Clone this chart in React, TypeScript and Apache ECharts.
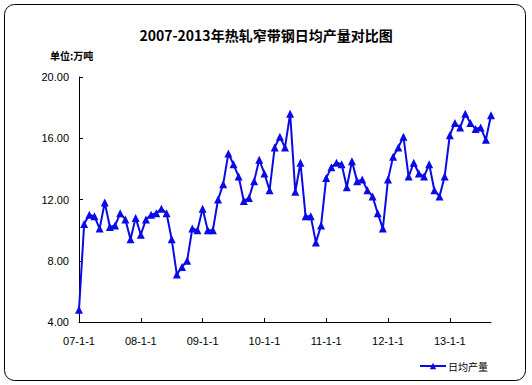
import React, { useEffect, useRef } from "react";
import * as echarts from "echarts";

const years = ["07", "08", "09", "10", "11", "12", "13"];
const lastYearMonths = 9;
const categories: string[] = [];
years.forEach((y, yi) => {
  const n = yi === years.length - 1 ? lastYearMonths : 12;
  for (let m = 1; m <= n; m++) categories.push(`${y}-${m}-1`);
});

const dailyOutput = [
  4.8, 10.4, 11.0, 10.9, 10.1, 11.8, 10.2, 10.3, 11.1, 10.7, 9.4, 10.8,
  9.7, 10.7, 11.0, 11.1, 11.4, 11.1, 9.4, 7.1, 7.6, 8.0, 10.1, 10.0,
  11.4, 10.0, 10.0, 12.0, 13.0, 15.0, 14.3, 13.5, 11.9, 12.1, 13.2, 14.6,
  13.7, 12.6, 15.4, 16.1, 15.4, 17.6, 12.5, 14.4, 10.9, 10.9, 9.2, 10.3,
  13.4, 14.1, 14.4, 14.3, 12.8, 14.5, 13.2, 13.3, 12.6, 12.2, 11.1, 10.1,
  13.3, 14.8, 15.4, 16.1, 13.5, 14.4, 13.7, 13.5, 14.3, 12.6, 12.2, 13.5,
  16.2, 17.0, 16.7, 17.6, 17.0, 16.6, 16.7, 15.9, 17.5,
];

const yTicks = { min: 4, max: 20, interval: 4 };
const titleText = "2007-2013年热轧窄带钢日均产量对比图";
const unitText = "单位:万吨";
const seriesName = "日均产量";

export default function App() {
  const ref = useRef<HTMLDivElement>(null);
  useEffect(() => {
    document.body.style.margin = "0";
    if (!ref.current) return;
    const chart = echarts.init(ref.current, undefined, { renderer: "svg" });
    const everyYear = (i: number) => i % 12 === 0;
    chart.setOption({
      animation: false,
      backgroundColor: "#ffffff",
      title: {
        text: titleText,
        left: "center",
        top: 23,
        textStyle: {
          fontFamily: "Noto Sans CJK SC",
          fontWeight: "bold",
          fontSize: 14,
          color: "#000",
        },
      },
      graphic: [
        {
          type: "rect",
          shape: { x: 4.5, y: 4.5, width: 521, height: 376, r: 10 },
          style: { fill: "none", stroke: "#000", lineWidth: 1 },
          silent: true,
        },
        {
          type: "text",
          x: 50,
          y: 55,
          style: {
            text: unitText,
            fontFamily: "Noto Sans CJK SC",
            fontWeight: "bold",
            fontSize: 10,
            fill: "#000",
            verticalAlign: "middle",
          },
        },
      ],
      legend: {
        left: 414,
        top: 356,
        itemWidth: 26,
        itemHeight: 8,
        itemGap: 2,
        textStyle: {
          fontFamily: "Noto Sans CJK SC",
          fontSize: 10,
          color: "#000",
          padding: [0, 0, 0, -3],
        },
        data: [seriesName],
      },
      grid: { left: 79, right: 41, top: 77, bottom: 63, containLabel: false },
      xAxis: {
        type: "category",
        data: categories,
        boundaryGap: false,
        axisLine: { lineStyle: { color: "#000", width: 1 } },
        axisTick: { inside: true, length: 4, interval: everyYear, lineStyle: { color: "#000" } },
        axisLabel: {
          interval: everyYear,
          margin: 13,
          fontFamily: "Liberation Sans",
          fontSize: 11,
          color: "#000",
        },
        splitLine: { show: false },
      },
      yAxis: {
        type: "value",
        min: yTicks.min,
        max: yTicks.max,
        interval: yTicks.interval,
        axisLine: { show: true, lineStyle: { color: "#000", width: 1 } },
        axisTick: { show: true, inside: true, length: 4, lineStyle: { color: "#000" } },
        axisLabel: {
          margin: 10,
          fontFamily: "Liberation Sans",
          fontSize: 11,
          color: "#000",
          formatter: (v: number) => v.toFixed(2),
        },
        splitLine: { show: false },
      },
      series: [
        {
          name: seriesName,
          type: "line",
          data: dailyOutput,
          symbol: "triangle",
          symbolSize: 8,
          showAllSymbol: true,
          lineStyle: { color: "#0a0ae6", width: 2 },
          itemStyle: { color: "#0a0ae6" },
        },
      ],
    });
    return () => chart.dispose();
  }, []);
  return (
    <div
      ref={ref}
      style={{ position: "absolute", left: 0, top: 0, width: 532, height: 385 }}
    />
  );
}
